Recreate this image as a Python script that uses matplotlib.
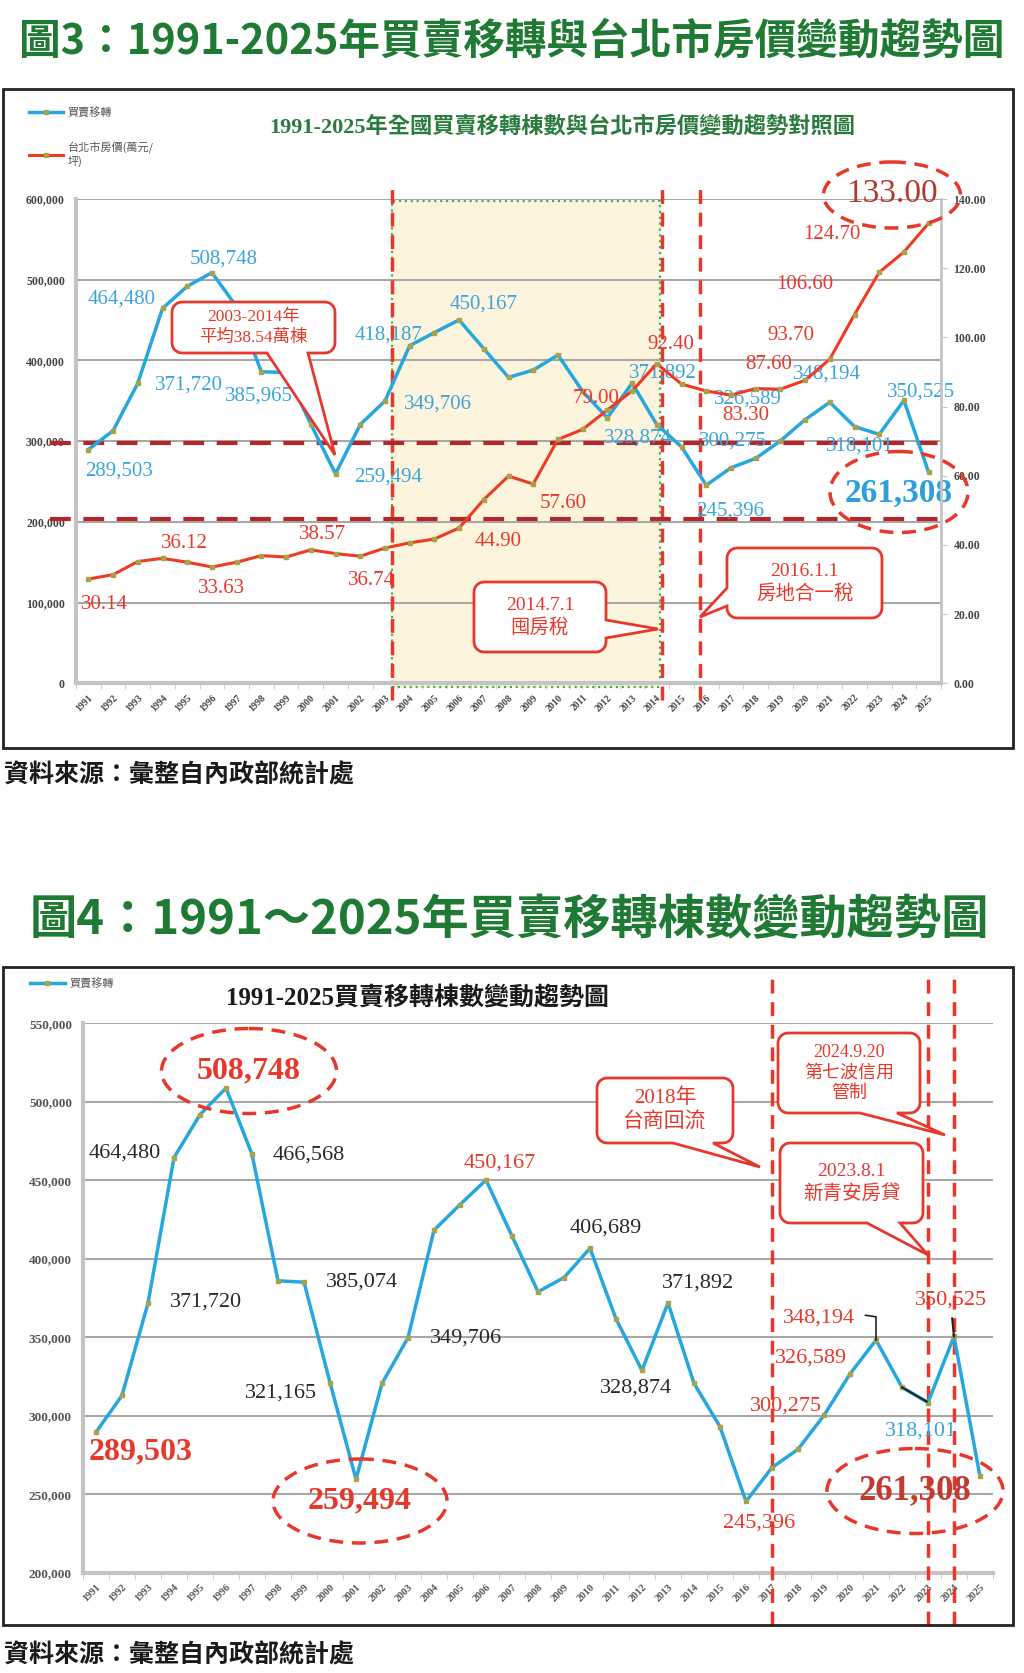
import numpy as np
import matplotlib.pyplot as plt
import matplotlib.transforms as mtransforms
from matplotlib.patches import Ellipse, Polygon, Rectangle
from matplotlib.ticker import FuncFormatter

plt.rcParams['font.family'] = ['Liberation Serif', 'Noto Sans CJK TC', 'DejaVu Sans']
plt.rcParams['axes.unicode_minus'] = False

# ---- data ----
years = list(range(1991, 2026))
transfers = [289503, 312900, 371720, 464480, 491800, 508748, 466568, 385965,
             385074, 321165, 259494, 320600, 349706, 418187, 434500, 450167,
             414500, 379000, 388000, 406689, 361700, 328874, 371892, 320600,
             293000, 245396, 267000, 278600, 300275, 326589, 348194, 318101,
             308400, 350525, 261308]
prices = [30.14, 31.4, 35.2, 36.12, 35.0, 33.63, 35.0, 36.9, 36.5, 38.57,
          37.5, 36.74, 39.1, 40.6, 41.7, 44.90, 53.1, 59.9, 57.60, 70.5,
          73.4, 79.00, 84.5, 92.40, 86.5, 84.5, 83.30, 85.2, 85.0, 87.60,
          93.70, 106.60, 118.8, 124.70, 133.00]

# labelled points: (index, label x, label y)
top_count_labels = [(0, 1.24, 263000), (3, 1.36, 476000), (5, 5.49, 526000),
                    (2, 4.07, 370000), (7, 6.9, 356000), (13, 12.13, 431000),
                    (12, 14.15, 346000), (10, 12.13, 255000), (15, 16.0, 470000),
                    (22, 23.25, 384000), (21, 22.24, 304000), (29, 26.7, 352000),
                    (28, 26.1, 300500), (25, 25.97, 214000), (30, 29.9, 383000),
                    (31, 31.2, 294000), (33, 33.7, 361000)]
top_price_labels = [(0, 0.67, 22.7), (3, 3.9, 40.4), (5, 5.4, 27.3), (9, 9.46, 43.0),
                    (11, 11.44, 29.7), (15, 16.58, 41.0), (18, 19.2, 52.0),
                    (21, 20.54, 82.4), (23, 23.58, 98.0), (26, 26.6, 77.4),
                    (29, 27.54, 92.2), (30, 28.44, 100.4), (31, 29.0, 115.2),
                    (33, 30.1, 129.7)]
bottom_black = [(3, 1.12, 467400), (6, 8.19, 466000), (8, 10.23, 385400),
                (2, 4.23, 372700), (9, 7.12, 314500), (12, 14.23, 349500),
                (19, 19.6, 419600), (22, 23.15, 384600), (21, 20.77, 317700)]
bottom_red = [(15, 15.54, 461000), (25, 25.5, 231700), (28, 26.54, 306200),
              (29, 27.5, 336600), (30, 27.8, 362000), (33, 32.9, 373800)]
bottom_big = [(5, 5.88, 519600), (0, 1.73, 277000), (10, 10.15, 246000)]

W, H = 1024, 1673
BLUE = '#27a7e0'
LBLUE = '#3aa5dc'
REDLINE = '#f03a24'
RED = '#e8382b'
DARKRED = '#b3262a'
MARK = '#aaa24a'
GRID = '#a8a8a8'
AXG = '#c4c4c4'

fig = plt.figure(figsize=(W / 100, H / 100), dpi=100)
PX = mtransforms.Affine2D().scale(1 / W, -1 / H).translate(0, 1) + fig.transFigure


def axes_at(l, t, r, b):
    return fig.add_axes([l / W, 1 - b / H, (r - l) / W, (b - t) / H])


def callout(x0, y0, x1, y1, side, base, tip, text, size, r=10):
    pts = []

    def arc(cx, cy, a0, a1):
        for t in np.linspace(a0, a1, 7):
            pts.append((cx + r * np.cos(t), cy + r * np.sin(t)))

    arc(x0 + r, y0 + r, np.pi, 1.5 * np.pi)
    arc(x1 - r, y0 + r, 1.5 * np.pi, 2 * np.pi)
    if side == 'right':
        pts += [(x1, base[0]), tip, (x1, base[1])]
    arc(x1 - r, y1 - r, 0, 0.5 * np.pi)
    if side == 'bottom':
        pts += [(base[1], y1), tip, (base[0], y1)]
    arc(x0 + r, y1 - r, 0.5 * np.pi, np.pi)
    if side == 'left':
        pts += [(x0, base[1]), tip, (x0, base[0])]
    fig.add_artist(Polygon(pts, closed=True, transform=PX, fc='white', ec=RED,
                           lw=2, zorder=5))
    fig.text((x0 + x1) / 2, (y0 + y1) / 2, text, transform=PX, ha='center',
             va='center', color=RED, fontsize=size, linespacing=1.3, zorder=6)


def ring(cx, cy, w, h):
    fig.add_artist(Ellipse((cx, cy), w, h, transform=PX, fill=False, ec=RED,
                           lw=2.5, ls=(0, (4, 2.5)), zorder=5))


x = np.arange(len(years))

# ---- headings, frames, footers ----
fig.text(512, 41, '圖3：1991-2025年買賣移轉與台北市房價變動趨勢圖', transform=PX,
         ha='center', va='center', fontsize=30, weight='bold', color='#1f7a33',
         family=['Noto Sans CJK TC'])
fig.text(509, 920, '圖4：1991～2025年買賣移轉棟數變動趨勢圖', transform=PX,
         ha='center', va='center', fontsize=34, weight='bold', color='#1f7a33',
         family=['Noto Sans CJK TC'])
for yy in (775, 1655):
    fig.text(4, yy, '資料來源：彙整自內政部統計處', transform=PX, ha='left',
             va='center', fontsize=18, weight='bold', color='#1a1a1a',
             family=['Noto Sans CJK TC'])
fig.add_artist(Rectangle((3, 89), 1010, 659, transform=PX, fill=False, ec='#222222', lw=2))
fig.add_artist(Rectangle((3, 967), 1010, 658, transform=PX, fill=False, ec='#222222', lw=2))

# ---- figure 3 ----
ax = axes_at(76, 199, 941, 683.3)
ax.set_xlim(-0.5, len(years) - 0.5)
ax.set_ylim(0, 600000)
ax2 = ax.twinx()
ax2.set_ylim(0, 140)

for v in range(0, 600001, 100000):
    ax.axhline(v, color=GRID, lw=1.5, zorder=1)
ax.add_patch(Rectangle((12.3, -5000), 10.85, 602000, fc='#fcf4dc', ec='#3bb54a',
                       ls=':', lw=1.6, zorder=0.5, clip_on=False))

for s in ('top', 'right'):
    ax.spines[s].set_visible(False)
for s in ('top', 'left', 'bottom'):
    ax2.spines[s].set_visible(False)
ax.spines['left'].set_color(AXG)
ax.spines['left'].set_linewidth(3)
ax.spines['bottom'].set_color(AXG)
ax.spines['bottom'].set_linewidth(3)
ax2.spines['right'].set_color(AXG)
ax2.spines['right'].set_linewidth(2)

ax.set_yticks(range(0, 600001, 100000))
ax.yaxis.set_major_formatter(FuncFormatter(lambda v, _: f"{int(v):,}"))
ax.tick_params(axis='y', length=0, pad=8, labelsize=8.5, labelcolor='#444444')
ax2.set_yticks(range(0, 141, 20))
ax2.yaxis.set_major_formatter(FuncFormatter(lambda v, _: f"{v:.2f}"))
ax2.tick_params(axis='y', length=4, color=AXG, pad=5, labelsize=8.5, labelcolor='#444444')
ax.set_xticks(x)
ax.set_xticklabels(years, rotation=45, ha='right', rotation_mode='anchor')
ax.set_xticks(np.arange(-0.5, len(years), 1), minor=True)
ax.tick_params(axis='x', which='major', length=0, pad=7, labelsize=7, labelcolor='#444444')
ax.tick_params(axis='x', which='minor', length=4, color=AXG)
for t in ax.get_xticklabels() + ax.get_yticklabels() + ax2.get_yticklabels():
    t.set_fontweight('bold')

l1, = ax.plot(x, transfers, color=BLUE, lw=2.5, marker='s', ms=3, mfc=MARK,
              mec=MARK, zorder=4, label='買賣移轉')
l2, = ax2.plot(x, prices, color=REDLINE, lw=2.2, marker='s', ms=3, mfc=MARK,
               mec=MARK, zorder=4, label='台北市房價(萬元/\n坪)')

for xv in (12.3, 23.2, 24.75):
    ax.plot([xv, xv], [-0.035, 1.033], transform=ax.get_xaxis_transform(),
            color=RED, lw=2.5, ls=(0, (4, 2.5)), clip_on=False, zorder=3)
for yv in (298000, 204000):
    ax.plot([-0.03, 1.008], [yv, yv], transform=ax.get_yaxis_transform(),
            color=DARKRED, lw=3, ls=(0, (5, 3)), clip_on=False, zorder=3)

for i, lx, ly in top_count_labels:
    ax.text(lx, ly, f"{transfers[i]:,}", color=LBLUE, fontsize=15, ha='center',
            va='center', zorder=6)
ax.text(32.8, 236000, f"{transfers[34]:,}", color='#2d9fd9', fontsize=24,
        weight='bold', ha='center', va='center', zorder=6)
for i, lx, ly in top_price_labels:
    ax2.text(lx, ly, f"{prices[i]:.2f}", color=RED, fontsize=15, ha='center',
             va='center', zorder=6)
ax2.text(32.5, 141.6, f"{prices[34]:.2f}", color='#b5372d', fontsize=24,
         ha='center', va='center', zorder=6)

leg = ax.legend(handles=[l1, l2], loc='upper left', bbox_to_anchor=(-0.0543, 1.19),
                frameon=False, handlelength=3.1, handletextpad=0.4, labelspacing=2.2,
                borderpad=0, borderaxespad=0,
                prop={'family': ['Noto Sans CJK TC'], 'size': 8})
for t in leg.get_texts():
    t.set_color('#555555')

fig.text(562, 127, '1991-2025年全國買賣移轉棟數與台北市房價變動趨勢對照圖', transform=PX,
         ha='center', va='center', fontsize=16, weight='bold', color='#2b7a3e')

ring(892, 195, 137, 66)
ring(899, 492, 138, 81)
callout(172, 302, 335, 353, 'bottom', (267, 308), (335, 455), '2003-2014年\n平均38.54萬棟', 12.5)
callout(474, 582, 606, 652, 'right', (620, 638), (658, 629), '2014.7.1\n囤房稅', 14)
callout(727, 548, 882, 618, 'left', (588, 606), (700, 617), '2016.1.1\n房地合一稅', 14)

# ---- figure 4 ----
bx = axes_at(83, 1023.3, 993, 1572.7)
bx.set_xlim(-0.5, len(years) - 0.5)
bx.set_ylim(200000, 550000)
for v in range(250000, 550001, 50000):
    bx.axhline(v, color=GRID, lw=1.5, zorder=1)
for s in ('top', 'right'):
    bx.spines[s].set_visible(False)
bx.spines['left'].set_color(AXG)
bx.spines['left'].set_linewidth(3)
bx.spines['bottom'].set_color(AXG)
bx.spines['bottom'].set_linewidth(3)
bx.set_yticks(range(200000, 550001, 50000))
bx.yaxis.set_major_formatter(FuncFormatter(lambda v, _: f"{int(v):,}"))
bx.tick_params(axis='y', length=0, pad=8, labelsize=9.5, labelcolor='#555555')
bx.set_xticks(x)
bx.set_xticklabels(years, rotation=45, ha='right', rotation_mode='anchor')
bx.set_xticks(np.arange(-0.5, len(years), 1), minor=True)
bx.tick_params(axis='x', which='major', length=0, pad=7, labelsize=7.5, labelcolor='#555555')
bx.tick_params(axis='x', which='minor', length=4, color=AXG)
for t in bx.get_xticklabels() + bx.get_yticklabels():
    t.set_fontweight('bold')

b1, = bx.plot(x, transfers, color=BLUE, lw=2.5, marker='s', ms=3, mfc=MARK,
              mec=MARK, zorder=4, label='買賣移轉')
for yr in (2017, 2023, 2024):
    xv = years.index(yr)
    bx.plot([xv, xv], [-0.095, 1.0825], transform=bx.get_xaxis_transform(),
            color=RED, lw=2.5, ls=(0, (4, 2.5)), clip_on=False, zorder=3)

# leader lines
bx.plot([29.6, 30, 30], [364000, 363000, transfers[30]], color='#222222', lw=1.2, zorder=5)
bx.plot([31, 31.95], [transfers[31], 309000], color='#222222', lw=1.5, zorder=5)
bx.plot([32.93, 33], [362000, transfers[33]], color='#222222', lw=1.5, zorder=5)

for i, lx, ly in bottom_black:
    bx.text(lx, ly, f"{transfers[i]:,}", color='#2a2a2a', fontsize=16, ha='center',
            va='center', zorder=6)
for i, lx, ly in bottom_red:
    bx.text(lx, ly, f"{transfers[i]:,}", color=RED, fontsize=16, ha='center',
            va='center', zorder=6)
for i, lx, ly in bottom_big:
    bx.text(lx, ly, f"{transfers[i]:,}", color=RED, fontsize=23, weight='bold',
            ha='center', va='center', zorder=6)
bx.text(31.73, 290000, f"{transfers[31]:,}", color=LBLUE, fontsize=16, ha='center',
        va='center', zorder=6)
bx.text(31.5, 252000, f"{transfers[34]:,}", color='#c23b30', fontsize=25,
        weight='bold', ha='center', va='center', zorder=6)

leg2 = bx.legend(handles=[b1], loc='upper left', bbox_to_anchor=(-0.058, 1.082),
                 frameon=False, handlelength=3.1, handletextpad=0.4, borderpad=0,
                 borderaxespad=0, prop={'family': ['Noto Sans CJK TC'], 'size': 8})
for t in leg2.get_texts():
    t.set_color('#555555')

fig.text(418, 998, '1991-2025買賣移轉棟數變動趨勢圖', transform=PX, ha='center',
         va='center', fontsize=18, weight='bold', color='#1a1a1a')

ring(249, 1071, 175, 85)
ring(360, 1501, 174, 84)
ring(915, 1491, 176, 85)
callout(597, 1078, 733, 1143, 'bottom', (673, 713), (760, 1167), '2018年\n台商回流', 15)
callout(778, 1033, 920, 1113, 'bottom', (860, 897), (945, 1135), '2024.9.20\n第七波信用\n管制', 13)
callout(780, 1143, 923, 1223, 'bottom', (867, 900), (928, 1255), '2023.8.1\n新青安房貸', 14)

fig.savefig('out.png', dpi=100, facecolor='white')
